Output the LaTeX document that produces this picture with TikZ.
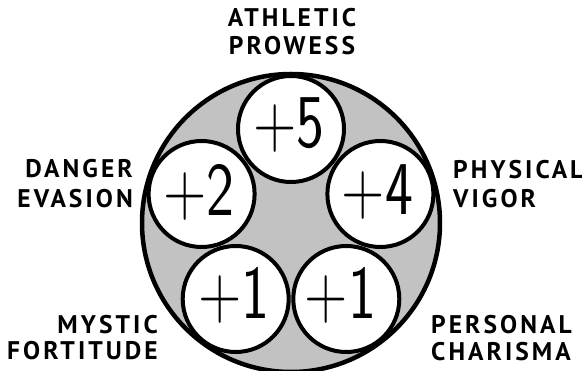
\documentclass[tikz,border=0pt]{standalone}
\usepackage{fontspec}
\usepackage{graphicx}
\usetikzlibrary{calc}
\setmainfont{PT Sans}
\newfontfamily\labelfont[LetterSpace=12]{PT Sans}
\tikzset{
  bigring/.style={draw=black, line width=4.5pt, fill=gray!48},
  ball/.style={circle, draw=black, line width=4pt, fill=white, minimum size=106pt, inner sep=0pt},
  num/.style={inner sep=0pt, font=\sffamily\fontsize{76}{76}\selectfont},
  lab/.style={inner sep=0pt, font=\labelfont\bfseries\fontsize{25.5}{25.5}\selectfont},
}
\begin{document}
\begin{tikzpicture}[x=1pt,y=-1pt]
\useasboundingbox (0,0) rectangle (582,371);
\fill[white] (0,0) rectangle (582,371);
\coordinate (c) at (291,223);
\draw[bigring] (c) circle (149);
\node[ball] (b5)  at ($(c)+(0,-94)$) {};
\node[ball] (b2)  at ($(c)+(-89.4,-29)$) {};
\node[ball] (b4)  at ($(c)+(89.4,-29)$) {};
\node[ball] (b1l) at ($(c)+(-55.3,76)$) {};
\node[ball] (b1r) at ($(c)+(55.3,76)$) {};
\node[num] (n5)  at ($(b5)+(-2,-4)$) {\scalebox{0.78}[1]{+5}};
\node[num] (n2)  at ($(b2)+(-3,-2)$) {\scalebox{0.78}[1]{+2}};
\node[num] (n4)  at ($(b4)+(-3,-2)$) {\scalebox{0.78}[1]{+4}};
\node[num] (n1l) at ($(b1l)+(-2,-4)$) {\scalebox{0.78}[1]{+1}};
\node[num] (n1r) at ($(b1r)+(-6,-4)$) {\scalebox{0.78}[1]{+1}};
\node[lab, anchor=base] (t1a) at (292,27) {ATHLETIC};
\node[lab, anchor=base] (t1b) at (292,55) {PROWESS};
\node[lab, anchor=base east] (t2a) at (133,178) {DANGER};
\node[lab, anchor=base east] (t2b) at (133,208) {EVASION};
\node[lab, anchor=base west] (t3a) at (453,179) {PHYSICAL};
\node[lab, anchor=base west] (t3b) at (453,208) {VIGOR};
\node[lab, anchor=base east] (t4a) at (158,334) {MYSTIC};
\node[lab, anchor=base east] (t4b) at (158,360) {FORTITUDE};
\node[lab, anchor=base west] (t5a) at (431,334) {PERSONAL};
\node[lab, anchor=base west] (t5b) at (431,361) {CHARISMA};
\end{tikzpicture}
\end{document}
